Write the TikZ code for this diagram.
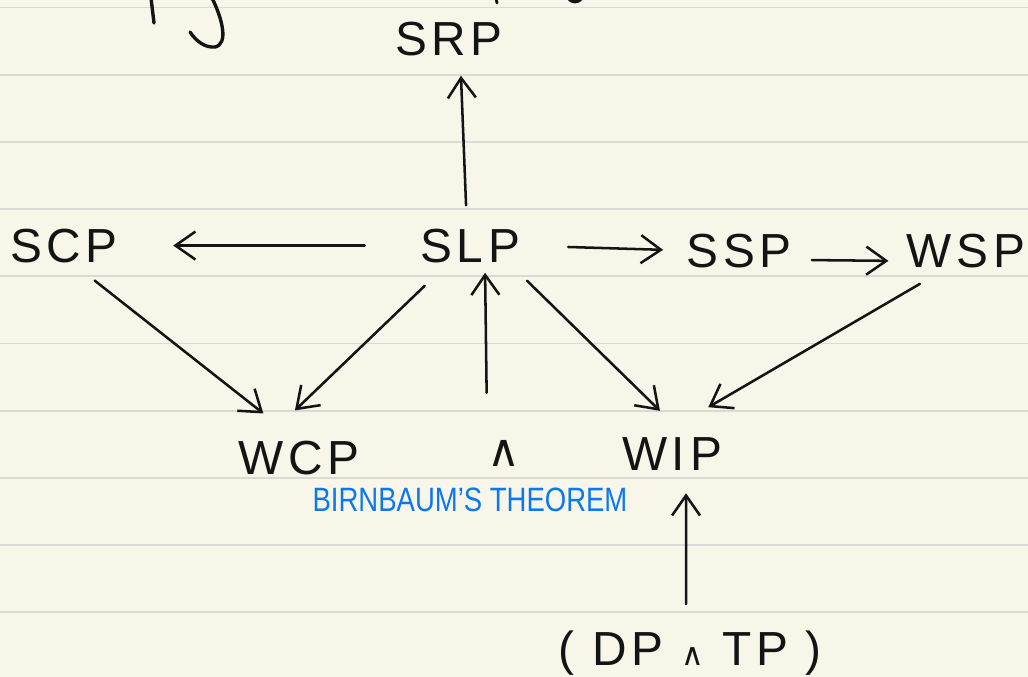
\documentclass[tikz,border=0pt]{standalone}
\usepackage{graphicx}
\usepackage{fontspec}
\setmainfont{Liberation Sans}
\newfontfamily\hand[LetterSpace=10]{Liberation Sans}
\newfontfamily\symb{DejaVu Sans}
\usetikzlibrary{arrows.meta}
\definecolor{paper}{HTML}{F8F6E9}
\definecolor{rule}{HTML}{D9D9D6}
\definecolor{ink}{HTML}{141414}
\definecolor{pen}{HTML}{0B78F0}
\newcommand\andsym{{\symb\fontsize{22}{22}\selectfont ∧}}

\begin{document}
\begin{tikzpicture}[x=0.025cm,y=-0.025cm,
  lbl/.style={text=ink,font=\hand\fontsize{34}{36}\selectfont,inner sep=0pt,anchor=base},
  arr/.style={draw=ink,line width=1.8pt,line cap=round,line join=round,
    -{Straight Barb[length=5mm,width=7mm]}}]
\fill[paper] (0,0) rectangle (1028,677);
\useasboundingbox (0,0) rectangle (1028,677);
\foreach \k in {0,...,9}
  \draw[rule,line width=1.3pt] (0,7.5+67.2*\k) -- (1028,7.5+67.2*\k);
% leftover pen strokes along the top edge
\draw[ink,line width=2.4pt,line cap=round] (151,-2) -- (154,23);
\draw[ink,line width=2.4pt,line cap=round] (212,-2) .. controls (222,18) and (229,44) .. (215,47)
  .. controls (205,48) and (196,41) .. (190,32);
\draw[ink,line width=2pt,line cap=round] (496,-2) -- (497,3);
\draw[ink,line width=2.4pt,line cap=round] (568,-2) .. controls (572,3) and (578,3) .. (582,-2);

\node[lbl] (srp) at (449,55) {SRP};
\node[lbl] (scp) at (64,262) {SCP};
\node[lbl] (slp) at (470,262) {SLP};
\node[lbl] (ssp) at (739,267) {SSP};
\node[lbl] (wsp) at (966,267) {WSP};
\node[lbl] (wcp) at (299,474) {WCP};
\node[lbl,font=\symb\fontsize{32}{32}\selectfont] (conj) at (504,466) {∧};
\node[lbl] (wip) at (672,470) {WIP};
\node[lbl,text=pen,font=\fontsize{24}{24}\selectfont] (thm) at (470,511)
  {\scalebox{0.815}[1]{BIRNBAUM'S THEOREM}};
\node[lbl] (dptp) at (690,665) {( DP \andsym\ TP )};

\draw[arr,shorten <=5.75mm,shorten >=5mm] (slp.100) -- (srp.-57);
\draw[arr,shorten <=13.75mm,shorten >=13.75mm] (slp.west) -- (scp.east);
\draw[arr,shorten <=12mm,shorten >=5.75mm] (slp.east) -- (ssp.west);
\draw[arr,shorten <=5mm,shorten >=4.5mm] (ssp.-10) -- (wsp.190);
\draw[arr,shorten <=7.2mm,shorten >=10.85mm] (scp.-65) -- (wcp.95);
\draw[arr,shorten <=8.3mm,shorten >=10.8mm] (slp.-141) -- (wcp.154);
\draw[arr,shorten <=11.75mm,shorten >=2.5mm] (conj.north west) -- (slp.-49);
\draw[arr,shorten <=6.4mm,shorten >=9.3mm] (slp.-24) -- (wip.49);
\draw[arr,shorten <=8mm,shorten >=14.7mm] (wsp.-137) -- (wip.131);
\draw[arr,shorten <=6.5mm,shorten >=5.75mm] (dptp.100) -- (wip.-50);
\end{tikzpicture}
\end{document}
